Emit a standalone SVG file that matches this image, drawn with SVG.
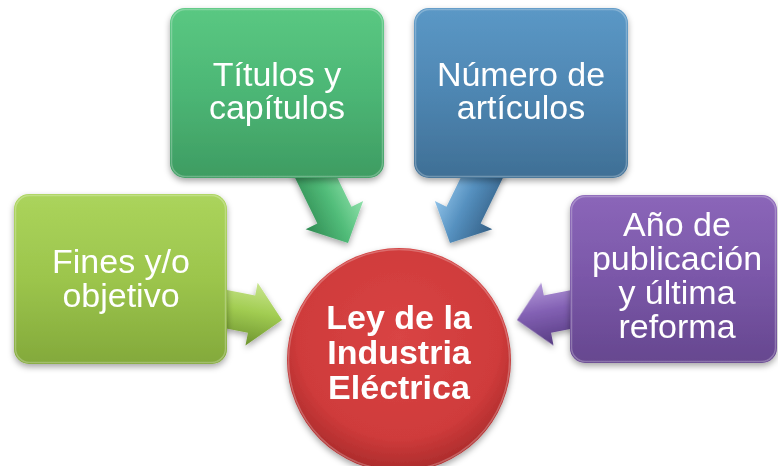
<svg xmlns="http://www.w3.org/2000/svg" width="778" height="466" viewBox="0 0 778 466">
<style>
.lbl{font-family:"Liberation Sans",Arial,sans-serif;font-size:34px;fill:#ffffff;text-anchor:middle}
.bold{font-weight:bold}
.hl{fill:none;stroke:#ffffff;stroke-opacity:0.25;stroke-width:1.5}
</style>
<defs>
<filter id="sh" x="-20%" y="-20%" width="140%" height="150%">
<feDropShadow dx="0" dy="3" stdDeviation="3" flood-color="#000" flood-opacity="0.35"/>
</filter>
<linearGradient id="gLime" x1="0" y1="0" x2="0" y2="1">
<stop offset="0" stop-color="#abd45c"/><stop offset="0.5" stop-color="#9cc54c"/><stop offset="1" stop-color="#83a93b"/>
</linearGradient>
<linearGradient id="gGreen" x1="0" y1="0" x2="0" y2="1">
<stop offset="0" stop-color="#5ac882"/><stop offset="0.5" stop-color="#4cb675"/><stop offset="1" stop-color="#3e9c62"/>
</linearGradient>
<linearGradient id="gBlue" x1="0" y1="0" x2="0" y2="1">
<stop offset="0" stop-color="#5b98c6"/><stop offset="0.5" stop-color="#4e86b2"/><stop offset="1" stop-color="#3f6f95"/>
</linearGradient>
<linearGradient id="gPurple" x1="0" y1="0" x2="0" y2="1">
<stop offset="0" stop-color="#8b66b9"/><stop offset="0.5" stop-color="#7a57a8"/><stop offset="1" stop-color="#66478f"/>
</linearGradient>
<radialGradient id="gRed" cx="0.5" cy="0.4" r="0.6">
<stop offset="0" stop-color="#d94444"/><stop offset="0.75" stop-color="#cf3b3b"/><stop offset="1" stop-color="#aa2b2b"/>
</radialGradient>
<linearGradient id="aLime" gradientUnits="userSpaceOnUse" x1="0" y1="-32" x2="0" y2="32">
<stop offset="0" stop-color="#c9e58f"/><stop offset="0.45" stop-color="#a2cd52"/><stop offset="1" stop-color="#6e9430"/>
</linearGradient>
<linearGradient id="aGreen" gradientUnits="userSpaceOnUse" x1="0" y1="-32" x2="0" y2="32">
<stop offset="0" stop-color="#8fe0aa"/><stop offset="0.45" stop-color="#52bd7a"/><stop offset="1" stop-color="#2f8a52"/>
</linearGradient>
<linearGradient id="aBlue" gradientUnits="userSpaceOnUse" x1="0" y1="-32" x2="0" y2="32">
<stop offset="0" stop-color="#8fc2e8"/><stop offset="0.45" stop-color="#5590bf"/><stop offset="1" stop-color="#345f85"/>
</linearGradient>
<linearGradient id="aPurple" gradientUnits="userSpaceOnUse" x1="0" y1="-32" x2="0" y2="32">
<stop offset="0" stop-color="#b499da"/><stop offset="0.45" stop-color="#8260b3"/><stop offset="1" stop-color="#573c82"/>
</linearGradient>
<path id="arrow" d="M -95,-19 L -31,-19 L -31,-32 L 0,0 L -31,32 L -31,19 L -95,19 Z"/>
</defs>

<rect width="778" height="466" fill="#ffffff"/>

<g id="connectors" filter="url(#sh)">
<use href="#arrow" fill="url(#aLime)" transform="translate(282,320) rotate(11)"/>
<use href="#arrow" fill="url(#aGreen)" transform="translate(348,243) rotate(64)"/>
<use href="#arrow" fill="url(#aBlue)" transform="translate(450,243) scale(-1,1) rotate(64)"/>
<use href="#arrow" fill="url(#aPurple)" transform="translate(517,320) scale(-1,1) rotate(11)"/>
</g>

<g id="node-fines">
<rect x="14" y="194" width="213" height="170" rx="15" fill="url(#gLime)" filter="url(#sh)"/>
<rect x="15.5" y="195.5" width="210" height="167" rx="14" class="hl"/>
<text class="lbl" x="121" y="273">Fines y/o</text>
<text class="lbl" x="121" y="307">objetivo</text>
</g>

<g id="node-titulos">
<rect x="170" y="8" width="214" height="170" rx="15" fill="url(#gGreen)" filter="url(#sh)"/>
<rect x="171.5" y="9.5" width="211" height="167" rx="14" class="hl"/>
<text class="lbl" x="277" y="86">Títulos y</text>
<text class="lbl" x="277" y="119">capítulos</text>
</g>

<g id="node-numero">
<rect x="414" y="8" width="214" height="170" rx="15" fill="url(#gBlue)" filter="url(#sh)"/>
<rect x="415.5" y="9.5" width="211" height="167" rx="14" class="hl"/>
<text class="lbl" x="521" y="86">Número de</text>
<text class="lbl" x="521" y="119">artículos</text>
</g>

<g id="node-anio">
<rect x="570" y="195" width="207" height="168" rx="15" fill="url(#gPurple)" filter="url(#sh)"/>
<rect x="571.5" y="196.5" width="204" height="165" rx="14" class="hl"/>
<text class="lbl" x="677" y="236">Año de</text>
<text class="lbl" x="677" y="270">publicación</text>
<text class="lbl" x="677" y="304">y última</text>
<text class="lbl" x="677" y="338">reforma</text>
</g>

<g id="node-ley">
<circle cx="399" cy="360" r="112" fill="url(#gRed)" filter="url(#sh)"/>
<circle cx="399" cy="360" r="110.5" class="hl"/>
<text class="lbl bold" x="399" y="329">Ley de la</text>
<text class="lbl bold" x="399" y="364">Industria</text>
<text class="lbl bold" x="399" y="399">Eléctrica</text>
</g>
</svg>
